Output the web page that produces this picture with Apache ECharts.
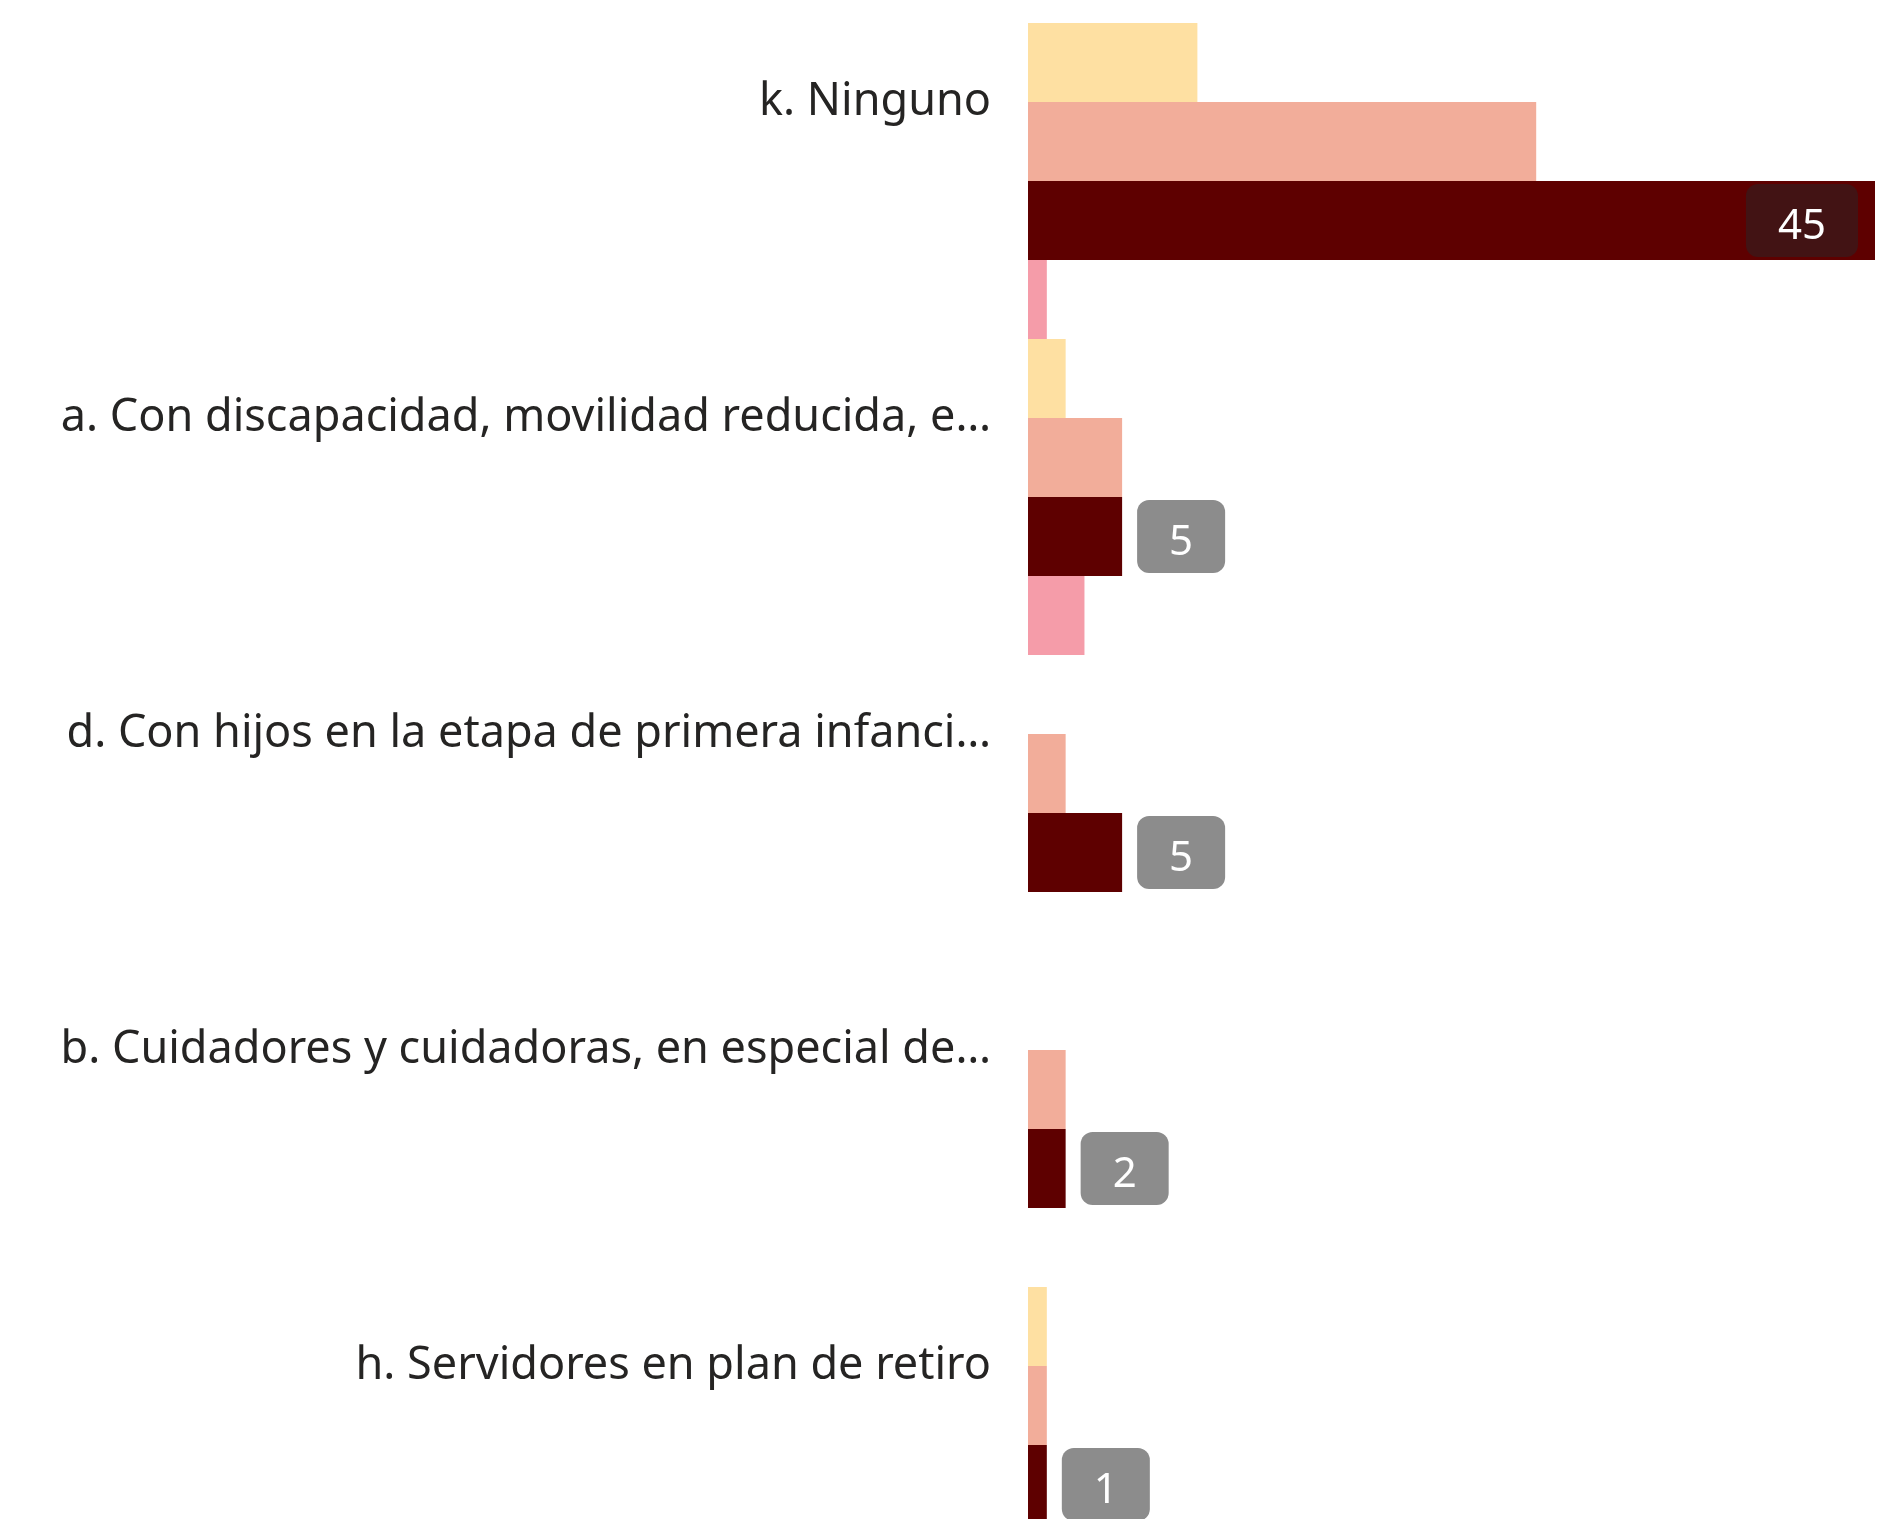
<!DOCTYPE html>
<html>
<head>
<meta charset="utf-8">
<script src="https://cdn.jsdelivr.net/npm/echarts@6/dist/echarts.min.js"></script>
<style>
  html, body { margin: 0; padding: 0; background: #fff; overflow: hidden; width: 1898px; height: 1519px; }
  /* el visual esta recortado arriba: la primera banda empieza fuera de la vista */
  #chart { position: absolute; left: 0; top: -56px; width: 1898px; height: 1580px; }
</style>
</head>
<body>
<div id="chart"></div>
<script>
// categorias, de arriba hacia abajo
const categories = [
    "k. Ninguno",
    "a. Con discapacidad, movilidad reducida, e…",
    "d. Con hijos en la etapa de primera infanci…",
    "b. Cuidadores y cuidadoras, en especial de…",
    "h. Servidores en plan de retiro"
];
// series (orden dentro de cada banda: rosa, amarillo, salmon, granate)
const pinkValues = [null, 1, 3, 0, 0];
const yellowValues = [9, 2, 0, 0, 1];
const salmonValues = [27, 5, 2, 2, 1];
const maroonValues = [45, 5, 5, 2, 1];
const axisMax = 45;

const chart = echarts.init(document.getElementById("chart"));

const labelBase = {
    show: true,
    position: "right",
    distance: 15,
    formatter: "{v|{c}}",
    backgroundColor: "#8c8c8c",
    borderRadius: 12,
    padding: [9, 32, 9, 32],
    rich: {
        v: {
            color: "#ffffff",
            fontSize: 42,
            fontFamily: "'Noto Sans', sans-serif",
            padding: [13, 0, 0, 0]
        }
    }
};

const maroonData = maroonValues.map(v => {
    if (v === axisMax) {
        return {
            value: v,
            label: { position: "insideRight", distance: 17, backgroundColor: "#421314" }
        };
    }
    return v;
});

const option = {
    animation: false,
    grid: { left: 1028, right: 23, top: 0, bottom: 0, containLabel: false },
    xAxis: { type: "value", min: 0, max: axisMax, show: false },
    yAxis: {
        type: "category",
        data: categories,
        inverse: true,
        axisLine: { show: false },
        axisTick: { show: false },
        splitLine: { show: false },
        axisLabel: {
            fontSize: 45,
            color: "#252423",
            margin: 37,
            fontFamily: "'Noto Sans', sans-serif"
        }
    },
    series: [
        { name: "rosa", type: "bar", data: pinkValues, barGap: "0%", barCategoryGap: "0%", itemStyle: { color: "#f59ca9" } },
        { name: "amarillo", type: "bar", data: yellowValues, barGap: "0%", barCategoryGap: "0%", itemStyle: { color: "#fee0a2" } },
        { name: "salmon", type: "bar", data: salmonValues, barGap: "0%", barCategoryGap: "0%", itemStyle: { color: "#f2ad9a" } },
        { name: "granate", type: "bar", data: maroonData, barGap: "0%", barCategoryGap: "0%", itemStyle: { color: "#5e0000" }, label: labelBase }
    ]
};
chart.setOption(option);
window.addEventListener("resize", () => chart.resize());
</script>
</body>
</html>
